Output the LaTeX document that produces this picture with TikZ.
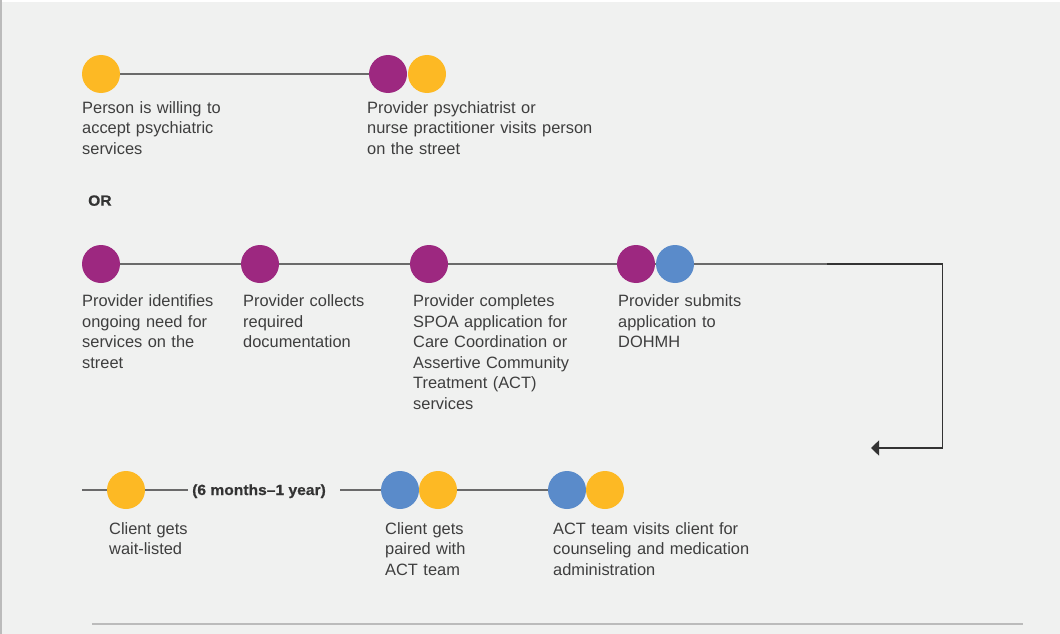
\documentclass[tikz,border=0pt]{standalone}
\usepackage{fontspec}
\setmainfont{Liberation Sans}
\newfontfamily\widebold{Liberation Sans Bold}[FakeStretch=1.055,FakeBold=0.6]
\usetikzlibrary{arrows.meta}
\definecolor{bg}{HTML}{F0F1F0}
\definecolor{cyellow}{HTML}{FDB924}
\definecolor{cpurple}{HTML}{9D2880}
\definecolor{cblue}{HTML}{5A8BCA}
\definecolor{txt}{HTML}{3E3E3E}
\definecolor{tline}{HTML}{6A6A6A}
\definecolor{conn}{HTML}{333333}
\definecolor{rule}{HTML}{BBBBBB}
\begin{document}
\begin{tikzpicture}[x=1pt,y=-1pt,
  dot/.style={circle,minimum size=38pt,inner sep=0pt,draw=none},
  ydot/.style={dot,fill=cyellow},
  pdot/.style={dot,fill=cpurple},
  bdot/.style={dot,fill=cblue},
  lbl/.style={anchor=base west,inner sep=0pt,align=left,text width=260pt,text=txt,
    font=\fontsize{16.4}{20.6}\selectfont},
  blbl/.style={anchor=base west,inner sep=0pt,text=conn,font=\fontsize{14.8}{18}\selectfont\widebold},
  tl/.style={draw=tline,line width=1.4pt},
  cn/.style={draw=conn,line width=1.5pt}]
\useasboundingbox (0,0) rectangle (1060,634);
\fill[bg] (0,0) rectangle (1060,634);
\fill[white] (0,0) rectangle (1060,2);
\fill[rule] (0,0) rectangle (2,634);
% row 1
\coordinate (r1a) at (101,74);
\coordinate (r1b) at (388,74);
\draw[tl] (r1a) -- (r1b);
\node[ydot] (c1) at (r1a) {};
\node[pdot] (c2) at (r1b) {};
\node[ydot] (c3) at (427,74) {};
\node[lbl] (t1) at (82,113) {Person is willing to\\accept psychiatric\\services};
\node[lbl] (t2) at (367,113) {Provider psychiatrist or\\nurse practitioner visits person\\on the street};
\node[blbl] (or) at (88,205.7) {OR};
% row 2
\coordinate (r2end) at (827,264);
\coordinate (r2corner) at (942.5,264);
\coordinate (r2down) at (942.5,448);
\coordinate (r2tip) at (871,448);
\draw[tl] (101,264) -- (r2end);
\draw[cn,-{Triangle[length=8pt,width=15pt]}] (r2end) -- (r2corner) -- (r2down) -- (r2tip);
\node[pdot] (d1) at (101,264) {};
\node[pdot] (d2) at (260,264) {};
\node[pdot] (d3) at (429,264) {};
\node[pdot] (d4) at (636,264) {};
\node[bdot] (d5) at (675,264) {};
\node[lbl] (s1) at (82,306.5) {Provider identifies\\ongoing need for\\services on the\\street};
\node[lbl] (s2) at (243,306.5) {Provider collects\\required\\documentation};
\node[lbl] (s3) at (413,306.5) {Provider completes\\SPOA application for\\Care Coordination or\\Assertive Community\\Treatment (ACT)\\services};
\node[lbl] (s4) at (618,306.5) {Provider submits\\application to\\DOHMH};
% row 3
\coordinate (r3start) at (82,490);
\coordinate (r3mid) at (188,490);
\coordinate (r3resume) at (340,490);
\draw[tl] (r3start) -- (r3mid);
\draw[tl] (r3resume) -- (567,490);
\node[ydot] (e1) at (126,490) {};
\node[bdot] (e2) at (400,490) {};
\node[ydot] (e3) at (438,490) {};
\node[bdot] (e4) at (567,490) {};
\node[ydot] (e5) at (605,490) {};
\node[blbl] (wait) at (192,495) {(6 months–1 year)};
\node[lbl] (u1) at (109,534) {Client gets\\wait-listed};
\node[lbl] (u2) at (385,534) {Client gets\\paired with\\ACT team};
\node[lbl] (u3) at (553,534) {ACT team visits client for\\counseling and medication\\administration};
% bottom rule
\coordinate (bl) at (92,624);
\coordinate (br) at (1023,624);
\draw[rule,line width=2pt] (bl) -- (br);
\end{tikzpicture}
\end{document}
